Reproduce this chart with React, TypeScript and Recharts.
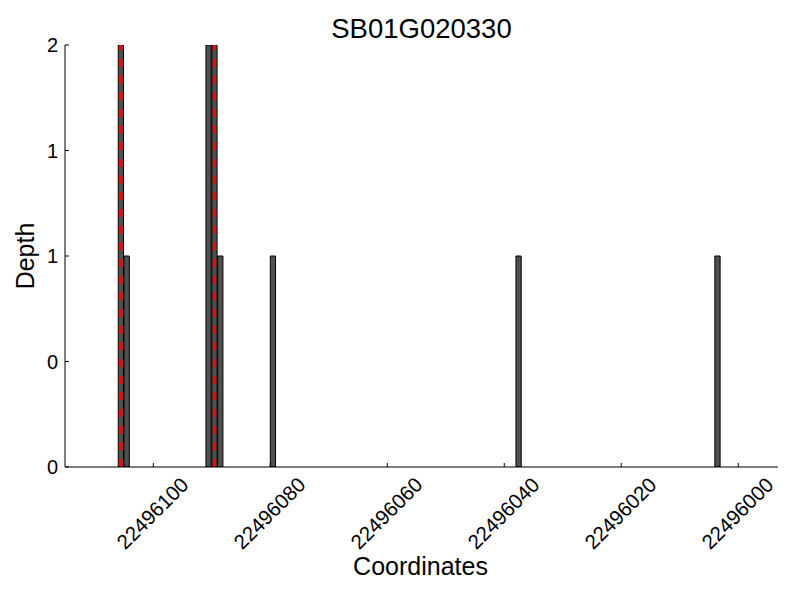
import React from "react";
import { ComposedChart, Bar, XAxis, YAxis, ReferenceLine } from "recharts";

const FONT = "'Liberation Sans', Arial, Helvetica, sans-serif";

const title = "SB01G020330";
const xLabel = "Coordinates";
const yLabel = "Depth";

// start coordinate of each 1-bp bin and its read depth
const binStarts = [22496105, 22496104, 22496090, 22496089, 22496088, 22496079, 22496037, 22496003];
const depths = [2, 1, 2, 2, 1, 1, 1, 1];
// bins highlighted with red dashed lines
const markedBins = [22496105, 22496089];

const xTicks = [22496100, 22496080, 22496060, 22496040, 22496020, 22496000];
const yTicks = [0, 0.5, 1, 1.5, 2];
const xDomain = [22495993.2, 22496115.1];
const yDomain = [0, 2];

const data = binStarts.map((s, i) => ({ pos: s + 0.5, depth: depths[i] }));

const XTick = (props: any) => {
  const { x, y, payload } = props;
  const cy = y + 46;
  return (
    <g>
      <line x1={x} x2={x} y1={y} y2={y - 4} stroke="#000" strokeWidth={1} />
      <text
        x={x - 1}
        y={cy}
        textAnchor="middle"
        dominantBaseline="central"
        transform={`rotate(-45 ${x - 1} ${cy})`}
        fontSize={20.5}
        fontFamily={FONT}
        fill="#000"
      >
        {payload.value}
      </text>
    </g>
  );
};

const YTick = (props: any) => {
  const { x, y, payload } = props;
  return (
    <g>
      <line x1={x} x2={x + 4} y1={y} y2={y} stroke="#000" strokeWidth={1} />
      <text
        x={x - 7}
        y={y}
        textAnchor="end"
        dominantBaseline="central"
        fontSize={20}
        fontFamily={FONT}
        fill="#000"
      >
        {Math.trunc(payload.value)}
      </text>
    </g>
  );
};

export default function App() {
  return (
    <div style={{ position: "absolute", left: 0, top: 0, width: 800, height: 600, background: "#fff" }}>
      <ComposedChart
        width={800}
        height={600}
        data={data}
        margin={{ top: 45, right: 22, bottom: 0, left: 0 }}
      >
        <XAxis
          dataKey="pos"
          type="number"
          domain={xDomain}
          allowDataOverflow
          reversed
          ticks={xTicks}
          interval={0}
          height={133}
          tickSize={0}
          tickMargin={0}
          tickLine={false}
          tick={<XTick />}
          axisLine={{ stroke: "#000", strokeWidth: 1 }}
        />
        <YAxis
          type="number"
          domain={yDomain}
          allowDataOverflow
          ticks={yTicks}
          interval={0}
          width={65}
          tickSize={0}
          tickMargin={0}
          tickLine={false}
          tick={<YTick />}
          axisLine={{ stroke: "#000", strokeWidth: 1 }}
        />
        <Bar
          dataKey="depth"
          fill="#505050"
          stroke="#000"
          strokeWidth={1}
          barSize={6}
          isAnimationActive={false}
        />
        {markedBins.map((b) => (
          <ReferenceLine
            key={b}
            x={b + 0.5}
            stroke="#ff0000"
            strokeWidth={3}
            strokeDasharray="8 8.67"
          />
        ))}
        <text x={421.5} y={38} textAnchor="middle" fontSize={27.5} fontFamily={FONT} fill="#000">
          {title}
        </text>
        <text x={420.5} y={575} textAnchor="middle" fontSize={25} fontFamily={FONT} fill="#000">
          {xLabel}
        </text>
        <text
          x={34}
          y={256}
          textAnchor="middle"
          transform="rotate(-90 34 256)"
          fontSize={25}
          fontFamily={FONT}
          fill="#000"
        >
          {yLabel}
        </text>
      </ComposedChart>
    </div>
  );
}
